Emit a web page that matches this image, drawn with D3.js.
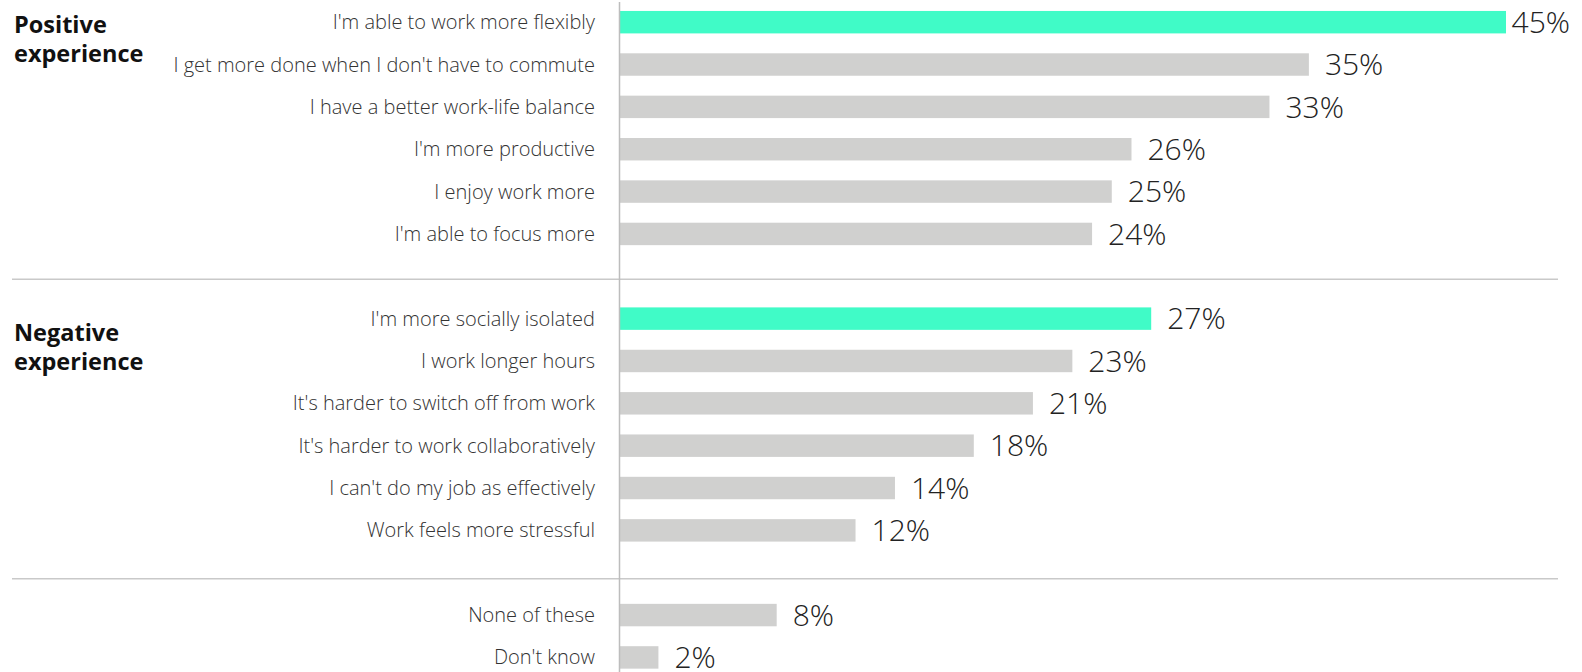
<!DOCTYPE html>
<html lang="en">
<head>
  <meta charset="UTF-8">
  <title>Remote working experience</title>
  <script src="https://cdn.jsdelivr.net/npm/d3@7/dist/d3.min.js"></script>
  <style>
    body { margin: 0; background: #fff; }
    svg { display: block; }
  </style>
</head>
<body>
<div id="chart"></div>
<script>
// answers, top to bottom, "" marks the empty slot between groups
const categories = [
  "I'm able to work more flexibly",
  "I get more done when I don't have to commute",
  "I have a better work-life balance",
  "I'm more productive",
  "I enjoy work more",
  "I'm able to focus more",
  "",
  "I'm more socially isolated",
  "I work longer hours",
  "It's harder to switch off from work",
  "It's harder to work collaboratively",
  "I can't do my job as effectively",
  "Work feels more stressful",
  "",
  "None of these",
  "Don't know"
];
const values = [45, 35, 33, 26, 25, 24, null, 27, 23, 21, 18, 14, 12, null, 8, 2];
const highlighted = ["I'm able to work more flexibly", "I'm more socially isolated"];
const groupTitles = [["Positive", "experience"], ["Negative", "experience"]];

const width = 1582, height = 672;
const axisX = 619;

const svg = d3.select("#chart").append("svg")
  .attr("width", width)
  .attr("height", height);

const slots = categories.map((c, i) => i);
const rows = slots.filter(i => values[i] != null);
const gaps = slots.filter(i => values[i] == null);

const xScale = d3.scaleLinear()
  .domain([0, 45])
  .range([axisX, 1506]);

const yScale = d3.scaleBand()
  .domain(slots)
  .range([1, 1 + 16 * 42.35])
  .paddingInner(0.47)
  .paddingOuter(0.235);

const bh = yScale.bandwidth();

// separators between the groups
svg.append("g")
  .selectAll("line")
  .data(gaps)
  .enter()
  .append("line")
  .attr("x1", 12)
  .attr("x2", 1558)
  .attr("y1", (d, i) => yScale(d) + bh / 2 + (i ? 6 : 3))
  .attr("y2", (d, i) => yScale(d) + bh / 2 + (i ? 6 : 3))
  .attr("stroke", "#c9c9c9")
  .attr("stroke-width", 1.5);

// bars
svg.append("g")
  .selectAll("rect")
  .data(rows)
  .enter()
  .append("rect")
  .attr("x", xScale(0))
  .attr("y", d => yScale(d))
  .attr("width", d => xScale(values[d]) - xScale(0))
  .attr("height", bh)
  .attr("fill", d => highlighted.includes(categories[d]) ? "#40fbc7" : "#d0d0cf");

// vertical axis line
svg.append("line")
  .attr("x1", axisX + 0.5)
  .attr("x2", axisX + 0.5)
  .attr("y1", 2)
  .attr("y2", height)
  .attr("stroke", "#bdbdbd")
  .attr("stroke-width", 1.5);

// category labels
svg.append("g")
  .selectAll("text")
  .data(rows)
  .enter()
  .append("text")
  .attr("x", 595)
  .attr("y", d => yScale(d) + bh / 2)
  .attr("dy", "0.35em")
  .attr("text-anchor", "end")
  .style("font-family", "'Open Sans', sans-serif")
  .style("font-weight", 300)
  .style("font-size", "20px")
  .attr("fill", "#333")
  .text(d => categories[d]);

// value labels, kept inside the right edge
svg.append("g")
  .selectAll("text")
  .data(rows)
  .enter()
  .append("text")
  .attr("y", d => yScale(d) + bh / 2)
  .attr("dy", "0.36em")
  .style("font-family", "'Open Sans', sans-serif")
  .style("font-weight", 300)
  .style("font-size", "30px")
  .attr("fill", "#222")
  .text(d => values[d] + "%")
  .attr("x", function (d) {
    let x = xScale(values[d]) + 16;
    let w = this.getComputedTextLength();
    return Math.min(x, 1570 - w);
  });

// group titles
const titleRows = [rows[0], rows[6]];
const titleOffsets = [11, 22];
svg.append("g")
  .selectAll("text")
  .data(groupTitles)
  .enter()
  .append("text")
  .attr("x", 14)
  .attr("y", (d, i) => yScale(titleRows[i]) + bh / 2 + titleOffsets[i])
  .style("font-family", "'Open Sans', sans-serif")
  .style("font-weight", 700)
  .style("font-size", "23.5px")
  .attr("fill", "#111")
  .selectAll("tspan")
  .data(d => d)
  .enter()
  .append("tspan")
  .attr("x", 14)
  .attr("dy", (d, i) => i ? 29 : 0)
  .text(d => d);
</script>
</body>
</html>
